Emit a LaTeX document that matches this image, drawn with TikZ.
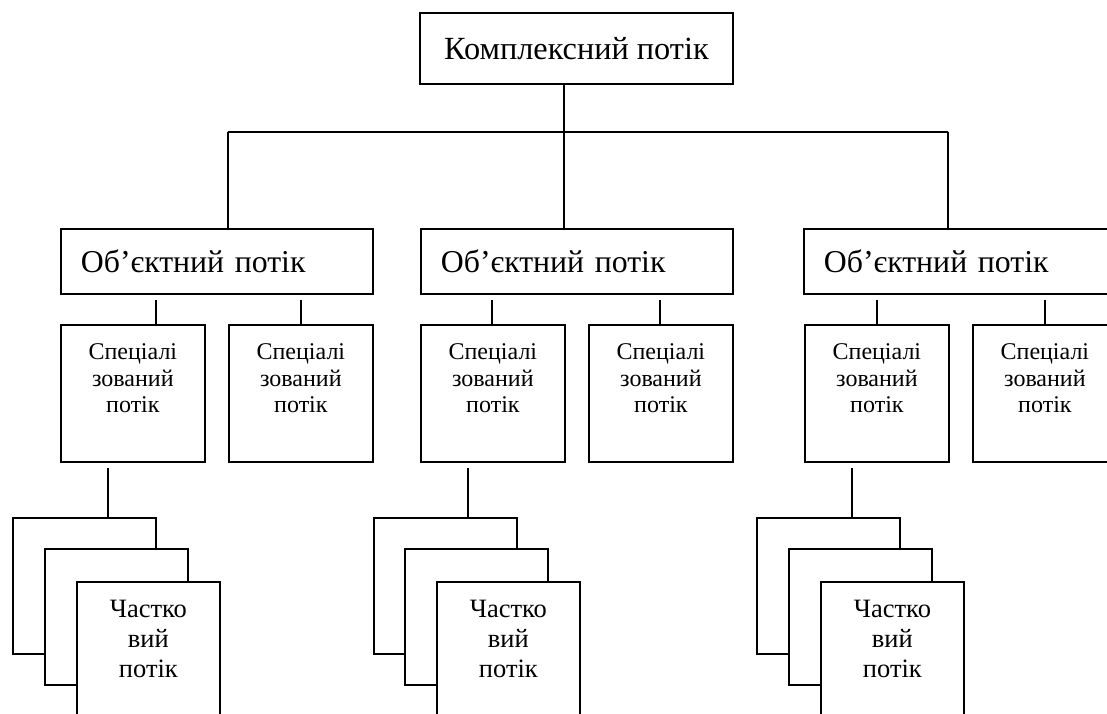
\documentclass[tikz,border=0pt]{standalone}
\usepackage{fontspec}
\setmainfont{Liberation Serif}
\begin{document}
\begin{tikzpicture}[x=1pt,y=-1pt,line width=1.8pt,
  box/.style={draw=black,fill=white,rectangle,inner sep=0pt,anchor=north west,line width=1.8pt},
  topbox/.style={box,minimum width=313pt,minimum height=71pt,font=\fontsize{32.3}{40}\selectfont},
  objbox/.style={box,minimum width=312pt,minimum height=65pt,text width=272pt,inner xsep=20pt,align=left,font=\fontsize{31.8}{40}\selectfont},
  specbox/.style={box,minimum width=144pt,minimum height=137pt},
  partbox/.style={box,minimum width=143pt,minimum height=136pt},
  spectext/.style={align=center,inner sep=0pt,anchor=north,font=\fontsize{24}{26.5}\selectfont},
  parttext/.style={align=center,inner sep=0pt,anchor=north,font=\fontsize{26.5}{30}\selectfont},
  link/.style={draw=black,line width=1.8pt}]
\useasboundingbox (0,0) rectangle (1107,713);
\clip (0,0) rectangle (1107,713);
% top
\node[topbox] (top) at (419,12) {Комплексний потік};
% object flows
\node[objbox] (o1) at (60,228) {Об’єктний потік};
\node[objbox] (o2) at (420,228) {Об’єктний потік};
\node[objbox] (o3) at (803,228) {Об’єктний потік};
% bus
\coordinate (bL) at (228,132);
\coordinate (bM) at (564,132);
\coordinate (bR) at (948,132);
\draw[link] (top.south -| bM) -- (bM);
\draw[link] (bL) -- (bR);
\draw[link] (bL) -- (bL |- o1.north);
\draw[link] (bM) -- (bM |- o2.north);
\draw[link] (bR) -- (bR |- o3.north);
% specialised flows
\node[specbox] (s11) at (60,324) {};
\node[specbox] (s12) at (228,324) {};
\node[specbox] (s21) at (420,324) {};
\node[specbox] (s22) at (588,324) {};
\node[specbox] (s31) at (804,324) {};
\node[specbox] (s32) at (972,324) {};
\foreach \s in {s11,s12,s21,s22,s31,s32}
  \node[spectext,yshift=-19pt] (\s t) at (\s.north) {Спеціалі\\зований\\потік};
\coordinate (c11) at (156,300);
\coordinate (c12) at (301,300);
\coordinate (c21) at (492,300);
\coordinate (c22) at (660,300);
\coordinate (c31) at (877,300);
\coordinate (c32) at (1045,300);
\foreach \c/\s in {c11/s11,c12/s12,c21/s21,c22/s22,c31/s31,c32/s32}
  \draw[link] (\c) -- (\c |- \s.north);
% partial flows
\coordinate (d1) at (108,468);
\coordinate (d2) at (468,468);
\coordinate (d3) at (852,468);
\node[partbox] (p11) at (12,517) {};
\node[partbox] (p12) at (44,548) {};
\node[partbox] (p13) at (76,581) {};
\node[partbox] (p21) at (373,517) {};
\node[partbox] (p22) at (404,548) {};
\node[partbox] (p23) at (436,581) {};
\node[partbox] (p31) at (756,517) {};
\node[partbox] (p32) at (788,548) {};
\node[partbox] (p33) at (820,581) {};
\foreach \p in {p13,p23,p33}
  \node[parttext,yshift=-18.5pt] (\p t) at (\p.north) {Частко\\вий\\потік};
\foreach \d/\p in {d1/p11,d2/p21,d3/p31}
  \draw[link] (\d) -- (\d |- \p.north);
\end{tikzpicture}
\end{document}
